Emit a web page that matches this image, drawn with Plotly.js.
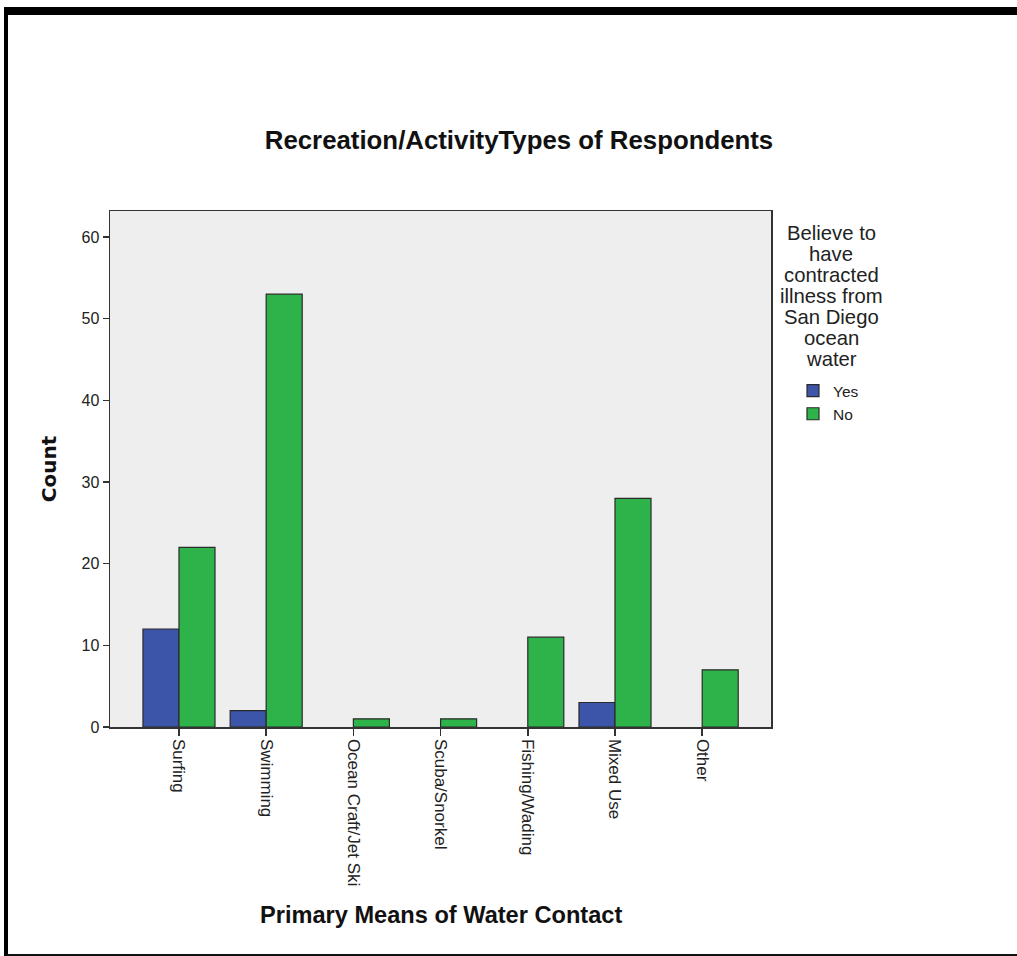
<!DOCTYPE html>
<html>
<head>
<meta charset="utf-8">
<script src="https://cdn.plot.ly/plotly-3.0.1.min.js"></script>
<style>
  html, body { margin: 0; padding: 0; background: #ffffff; }
  #wrap { position: relative; width: 1017px; height: 956px; overflow: hidden; }
  #frame { position: absolute; left: 4px; top: 7px; width: 1100px; height: 939px;
           border-top: 8px solid #000; border-left: 4px solid #000; border-bottom: 3px solid #111;
           box-sizing: content-box; pointer-events: none; z-index: 5; }
  #chart { position: absolute; left: 0; top: 0; width: 1017px; height: 956px; }
</style>
</head>
<body>
<div id="wrap">
  <div id="chart"></div>
  <div id="frame"></div>
</div>
<script>
const categories = ["Surfing", "Swimming", "Ocean Craft/Jet Ski", "Scuba/Snorkel", "Fishing/Wading", "Mixed Use", "Other"];
const yesCounts = [12, 2, 0, 0, 0, 3, 0];
const noCounts = [22, 53, 1, 1, 11, 28, 7];
const seriesNames = ["Yes", "No"];
const legendTitleLines = ["Believe to", "have", "contracted", "illness from", "San Diego", "ocean", "water"];
const yTicks = [0, 10, 20, 30, 40, 50, 60];
const chartTitle = "Recreation/ActivityTypes of Respondents";
const xTitle = "Primary Means of Water Contact";
const yTitle = "Count";

const idx = categories.map((c, i) => i);
const FONT = "Liberation Sans, Arial, sans-serif";

const traces = [
  { type: "bar", name: seriesNames[0], x: idx, y: yesCounts.map(v => v === 0 ? null : v),
    marker: { color: "#3D55A8", line: { color: "#2a2a2a", width: 1.2 } }, hoverinfo: "y" },
  { type: "bar", name: seriesNames[1], x: idx, y: noCounts.map(v => v === 0 ? null : v),
    marker: { color: "#2DB34A", line: { color: "#2a2a2a", width: 1.2 } }, hoverinfo: "y" }
];

// plot area in pixels
const PL = 110, PR = 771, PT = 211, PB = 727, W = 1017, H = 956;
const px2x = p => (p - PL) / (PR - PL);
const py2y = p => 1 - (p - PT) / (PB - PT);

const annotations = legendTitleLines.map((t, i) => ({
  text: t, xref: "paper", yref: "paper",
  x: px2x(831), y: py2y(233 + i * 21), xanchor: "center", yanchor: "middle",
  showarrow: false, font: { size: 20.3, color: "#222", family: FONT }
}));
annotations.push({
  text: "<b>" + xTitle + "</b>", xref: "paper", yref: "paper",
  x: px2x(441), y: py2y(915), xanchor: "center", yanchor: "middle",
  showarrow: false, font: { size: 23.6, color: "#111", family: FONT }
});

const layout = {
  width: W, height: H,
  paper_bgcolor: "rgba(0,0,0,0)",
  plot_bgcolor: "#EEEEEE",
  margin: { l: PL, r: W - PR, t: PT, b: H - PB, pad: 0 },
  barmode: "group", bargap: 0.174, bargroupgap: 0,
  font: { family: FONT, color: "#222" },
  title: { text: "<b>" + chartTitle + "</b>", x: 519 / W, xref: "container", xanchor: "center",
           y: 1 - 140 / H, yref: "container", yanchor: "middle",
           font: { size: 25.8, color: "#111", family: FONT } },
  xaxis: {
    tickmode: "array", tickvals: idx, ticktext: categories,
    range: [-0.791, 6.789], tickangle: 90,
    ticks: "outside", ticklen: 7, tickwidth: 1.5, tickcolor: "#333",
    showline: true, linecolor: "#333", linewidth: 1.5, mirror: true,
    showgrid: false, zeroline: false,
    tickfont: { size: 17, color: "#222", family: FONT }
  },
  yaxis: {
    range: [0, 63.18], tickmode: "array", tickvals: yTicks,
    ticks: "outside", ticklen: 6, tickwidth: 1.5, tickcolor: "#333",
    showline: true, linecolor: "#333", linewidth: 1.5, mirror: true,
    showgrid: false, zeroline: false,
    tickfont: { size: 16, color: "#222", family: FONT },
    title: { text: "<b>" + yTitle + "</b>", standoff: 19,
             font: { size: 20, color: "#111", family: "DejaVu Sans, sans-serif" } }
  },
  showlegend: true,
  legend: {
    x: px2x(793), xanchor: "left", xref: "paper",
    y: py2y(374), yanchor: "top", yref: "paper",
    bgcolor: "rgba(0,0,0,0)", borderwidth: 0,
    font: { size: 15.5, color: "#222", family: FONT },
    itemwidth: 30, tracegroupgap: 0, traceorder: "normal"
  },
  annotations: annotations
};

Plotly.newPlot("chart", traces, layout, { staticPlot: true, displayModeBar: false });
</script>
</body>
</html>
